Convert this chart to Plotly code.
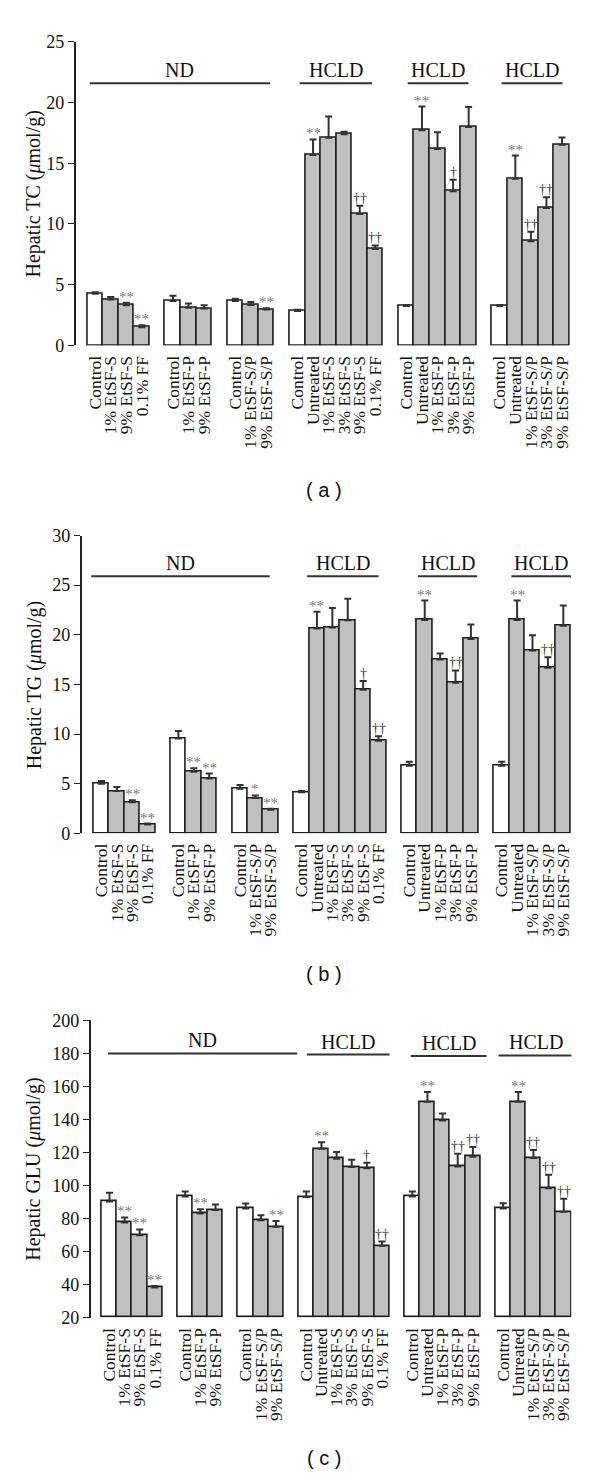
import plotly.graph_objects as go

# ---------------- data ----------------
group_labels = [
    ["Control", "1% EtSF-S", "9% EtSF-S", "0.1% FF"],
    ["Control", "1% EtSF-P", "9% EtSF-P"],
    ["Control", "1% EtSF-S/P", "9% EtSF-S/P"],
    ["Control", "Untreated", "1% EtSF-S", "3% EtSF-S", "9% EtSF-S", "0.1% FF"],
    ["Control", "Untreated", "1% EtSF-P", "3% EtSF-P", "9% EtSF-P"],
    ["Control", "Untreated", "1% EtSF-S/P", "3% EtSF-S/P", "9% EtSF-S/P"],
]
group_names = ["ND", "HCLD", "HCLD", "HCLD"]

tc_values = [4.25, 3.79, 3.30, 1.49,
             3.65, 3.11, 3.03,
             3.65, 3.33, 2.95,
             2.84, 15.69, 17.10, 17.40, 10.82, 7.93,
             3.25, 17.72, 16.18, 12.69, 17.99,
             3.25, 13.72, 8.58, 11.31, 16.53]
tc_errors = [0.13, 0.20, 0.22, 0.18,
             0.43, 0.35, 0.27,
             0.19, 0.24, 0.11,
             0.10, 1.27, 1.76, 0.20, 0.68, 0.30,
             0.08, 1.95, 1.38, 0.95, 1.65,
             0.08, 1.92, 0.78, 0.89, 0.60]
tc_marks = ["", "", "**", "**",
            "", "", "",
            "", "", "**",
            "", "**", "", "", "††", "††",
            "", "**", "", "†", "",
            "", "**", "††", "††", ""]

tg_values = [5.00, 4.25, 3.13, 0.88,
             9.55, 6.19, 5.51,
             4.49, 3.54, 2.38,
             4.12, 20.63, 20.74, 21.47, 14.45, 9.32,
             6.80, 21.50, 17.50, 15.17, 19.58,
             6.80, 21.50, 18.42, 16.67, 20.90]
tg_errors = [0.27, 0.40, 0.20, 0.10,
             0.75, 0.37, 0.50,
             0.37, 0.27, 0.10,
             0.13, 1.70, 1.95, 2.15, 0.90, 0.46,
             0.40, 1.95, 0.60, 1.23, 1.45,
             0.40, 1.95, 1.52, 1.06, 2.06]
tg_marks = ["", "", "**", "**",
            "", "**", "**",
            "", "*", "**",
            "", "**", "", "", "†", "††",
            "", "**", "", "††", "",
            "", "**", "", "††", ""]

glu_values = [90.3, 77.6, 69.9, 38.2,
              93.3, 83.0, 85.2,
              86.0, 79.0, 75.0,
              93.0, 122.2, 116.2, 111.2, 110.4, 63.5,
              93.3, 150.6, 139.3, 111.5, 117.4,
              86.0, 150.6, 116.6, 98.3, 84.0]
glu_errors = [5.2, 3.0, 3.5, 1.0,
              3.0, 2.6, 3.3,
              3.0, 3.0, 3.4,
              3.3, 4.0, 4.0, 4.4, 3.4, 2.5,
              3.0, 6.0, 4.2, 7.7, 5.8,
              3.2, 6.0, 4.8, 8.1, 8.0]
glu_marks = ["", "**", "**", "**",
             "", "**", "",
             "", "", "**",
             "", "**", "", "", "†", "††",
             "", "**", "", "††", "††",
             "", "**", "††", "††", "††"]

y_titles = ["Hepatic TC (<i>μ</i>mol/g)", "Hepatic TG (<i>μ</i>mol/g)",
            "Hepatic GLU (<i>μ</i>mol/g)"]
panel_tags = ["( a )", "( b )", "( c )"]

# ---------------- layout / style config ----------------
W, H = 600, 1483
SERIF = "Liberation Serif, Times New Roman, serif"
panels = [
    dict(vals=tc_values, errs=tc_errors, marks=tc_marks, base=0,
         xpx=(76, 571.7), ypx=(32.3, 340), xr=(-1.25, 30.5), yr=(0, 25), dtick=5,
         head_y=[21.6, 21.6, 21.6, 21.6],
         head_x=[(-0.35, 11.24), (13.14, 17.8), (20.08, 23.99), (26.12, 30.03)],
         tag_y=487),
    dict(vals=tg_values, errs=tg_errors, marks=tg_marks, base=0,
         xpx=(82, 572.9), ypx=(532.7, 834.5), xr=(-1.28, 30.5), yr=(0, 30), dtick=5,
         head_y=[25.9, 25.9, 25.9, 25.9],
         head_x=[(-0.66, 10.93), (13.36, 18.0), (20.55, 24.41), (26.63, 30.5)],
         tag_y=977),
    dict(vals=glu_values, errs=glu_errors, marks=glu_marks, base=20,
         xpx=(91, 573.2), ypx=(1024, 1325.5), xr=(-1.24, 30.5), yr=(20, 200), dtick=20,
         head_y=[179.9, 179.2, 178.3, 178.7],
         head_x=[(-0.1, 12.4), (13.05, 18.5), (19.9, 24.9), (25.7, 30.7)],
         tag_y=1468),
]

# slot positions (one empty slot between groups)
positions, labels, is_control = [], [], []
slot = 0
for grp in group_labels:
    for lab in grp:
        positions.append(slot)
        labels.append(lab)
        is_control.append(lab == "Control")
        slot += 1
    slot += 1

fig = go.Figure()
annotations, shapes = [], []
for k, p in enumerate(panels):
    xa = "x" if k == 0 else f"x{k+1}"
    ya = "y" if k == 0 else f"y{k+1}"
    colors = ["white" if c else "#c0c0c0" for c in is_control]
    fig.add_trace(go.Bar(
        x=positions, y=[v - p["base"] for v in p["vals"]], base=p["base"],
        width=1.0, xaxis=xa, yaxis=ya,
        marker=dict(color=colors, line=dict(color="#1e1e1e", width=1.6)),
        error_y=dict(type="data", array=p["errs"], arrayminus=[0] * len(p["errs"]),
                     symmetric=False, color="#333333", thickness=2, width=3.5),
        showlegend=False, hoverinfo="skip"))
    xd = [p["xpx"][0] / W, p["xpx"][1] / W]
    yd = [1 - p["ypx"][1] / H, 1 - p["ypx"][0] / H]
    xkey = "xaxis" if k == 0 else f"xaxis{k+1}"
    ykey = "yaxis" if k == 0 else f"yaxis{k+1}"
    fig.layout[xkey] = dict(domain=xd, range=list(p["xr"]), anchor=ya,
                            showline=False, showgrid=False, zeroline=False,
                            tickmode="array", tickvals=positions, ticktext=labels,
                            tickangle=-90, ticks="", ticklabelstandoff=6,
                            tickfont=dict(family=SERIF, size=17.5, color="#111"))
    fig.layout[ykey] = dict(domain=yd, range=list(p["yr"]), anchor=xa,
                            showline=True, linecolor="#222", linewidth=1.6,
                            showgrid=False, zeroline=False, ticks="outside",
                            ticklen=6, tickwidth=1.4, tickcolor="#222",
                            dtick=p["dtick"], tick0=p["yr"][0],
                            tickfont=dict(family=SERIF, size=18, color="#111"))
    # y title
    annotations.append(dict(xref="paper", yref="paper", x=34 / W,
                            y=(yd[0] + yd[1]) / 2, text=y_titles[k], textangle=-90,
                            showarrow=False, xanchor="center", yanchor="middle",
                            font=dict(family=SERIF, size=20, color="#111")))
    # significance marks
    for pos, v, e, m in zip(positions, p["vals"], p["errs"], p["marks"]):
        if not m:
            continue
        star = "*" in m
        annotations.append(dict(xref=xa, yref=ya, x=pos, y=v + e, text=m,
                                showarrow=False, xanchor="center", yanchor="bottom",
                                yshift=-4 if star else -2,
                                font=dict(family=SERIF, size=15 if star else 14,
                                          color="#7a7a7a" if star else "#333")))
    # group headers
    for name, (x0, x1), hy in zip(group_names, p["head_x"], p["head_y"]):
        shapes.append(dict(type="line", xref=xa, yref=ya, x0=x0, x1=x1, y0=hy, y1=hy,
                           line=dict(color="#333", width=2)))
        annotations.append(dict(xref=xa, yref=ya, x=(x0 + x1) / 2, y=hy, text=name,
                                showarrow=False, xanchor="center", yanchor="bottom",
                                yshift=0,
                                font=dict(family=SERIF, size=20, color="#111")))
    # panel tag
    annotations.append(dict(xref="paper", yref="paper", x=325 / W, y=1 - p["tag_y"] / H,
                            text=panel_tags[k], showarrow=False, xanchor="center",
                            yanchor="middle",
                            font=dict(family="Liberation Sans, Arial, sans-serif",
                                      size=20, color="#111")))

fig.update_layout(width=W, height=H, margin=dict(l=0, r=0, t=0, b=0),
                  paper_bgcolor="white", plot_bgcolor="white",
                  bargap=0, annotations=annotations, shapes=shapes)
fig.write_html("out.html", config={"displayModeBar": False},
               post_script="document.body.style.margin='0';"
                           "document.body.style.overflow='hidden';")
